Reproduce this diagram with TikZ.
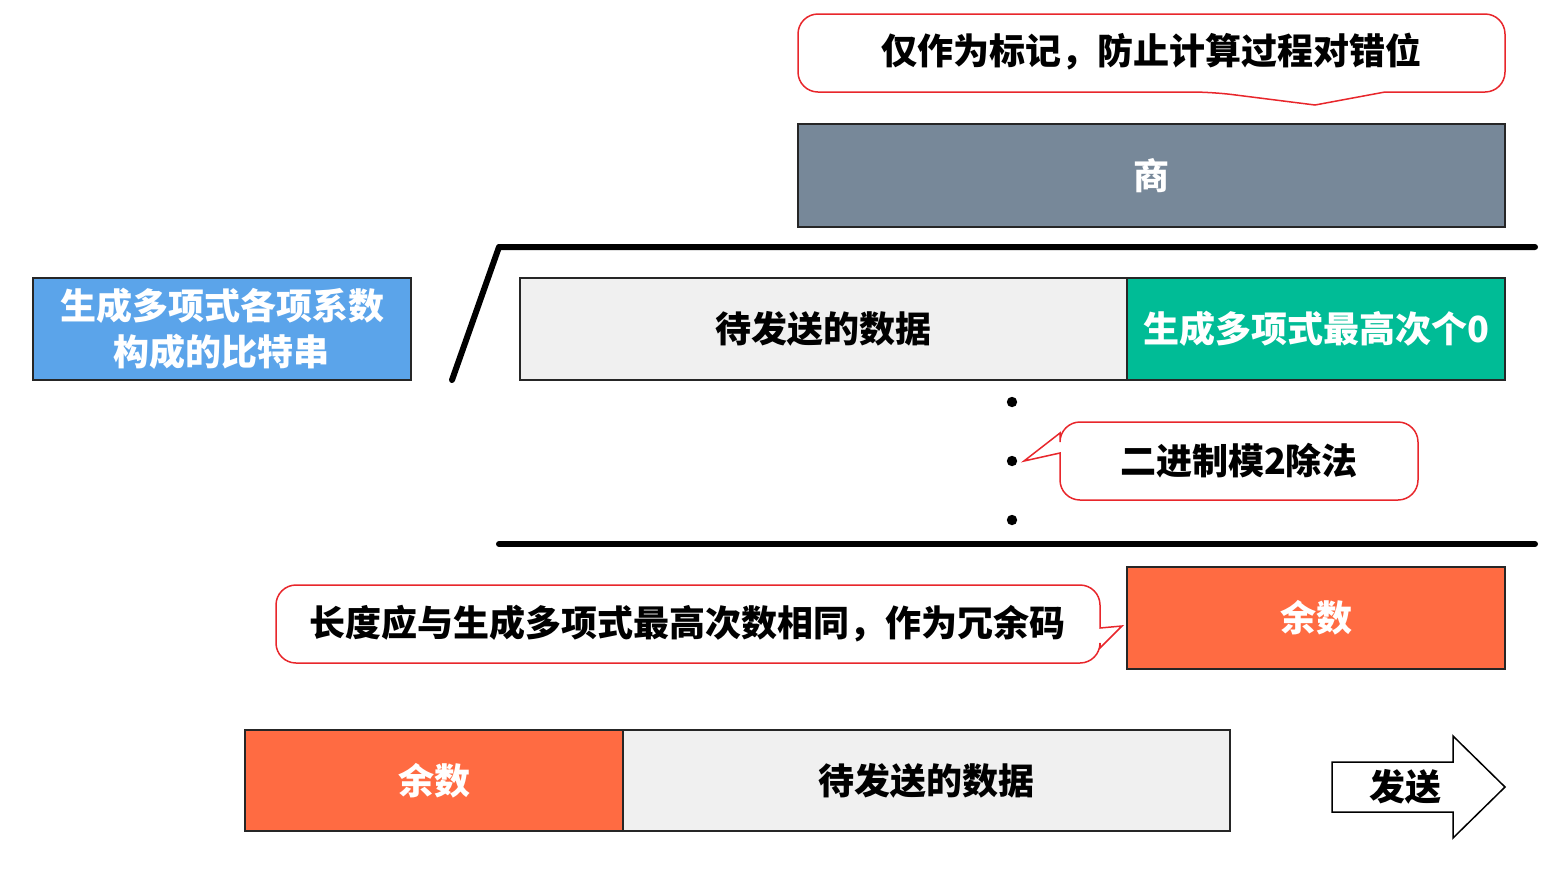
\documentclass[tikz,border=0pt]{standalone}
\usepackage{fontspec}
\setmainfont{Noto Sans CJK SC}[BoldFont={Noto Sans CJK SC Black}]
\usetikzlibrary{fit}
\definecolor{calloutred}{HTML}{E8262B}
\definecolor{slate}{HTML}{778899}
\definecolor{bluebox}{HTML}{5BA4EA}
\definecolor{greenbox}{HTML}{00BC96}
\definecolor{orangebox}{HTML}{FF6B42}
\definecolor{graybox}{HTML}{F0F0F0}
\tikzset{
  lbl/.style={font=\bfseries\fontsize{18}{22}\selectfont, inner sep=0pt},
  boxbase/.style={draw=black!85, line width=0.75pt, inner sep=0pt, font=\bfseries\fontsize{18}{22}\selectfont},
  slatebox/.style={boxbase, fill=slate, text=white},
  bluebx/.style={boxbase, fill=bluebox, text=white, align=center},
  greenbx/.style={boxbase, fill=greenbox, text=white},
  orangebx/.style={boxbase, fill=orangebox, text=white},
  graybx/.style={boxbase, fill=graybox, text=black},
  callout/.style={draw=calloutred, line width=0.75pt, fill=white},
  divline/.style={line width=3pt, line cap=round, line join=round},
}
\begin{document}
\begin{tikzpicture}[x=0.5pt, y=-0.5pt]
\useasboundingbox (0,0) rectangle (1564,869);
\fill[white] (0,0) rectangle (1564,869);

% top callout
\draw[callout] (1150,14) [rounded corners=10pt] -- (798,14) -- (798,92) -- (1212,92) [sharp corners] -- (1315,105) -- (1385,92) [rounded corners=10pt] -- (1505,92) -- (1505,14) -- cycle;
\node[lbl] (note1) at (1151,52) {仅作为标记，防止计算过程对错位};

% quotient
\node[slatebox, fit={(798,124) (1505,227)}] (shang) {};
\node[lbl, text=white] (shangt) at (shang.center) {商};

% division bracket
\draw[divline] (452,380) -- (499,247) -- (1535,247);

% generator polynomial
\node[bluebx, fit={(33,278) (411,380)}] (gen) {};
\node[lbl, text=white, align=center] (gent) at (gen.center) {生成多项式各项系数\\[1pt]构成的比特串};

% dividend
\node[graybx, fit={(520,278) (1127,380)}] (data1) {};
\node[lbl] (data1t) at (data1.center) {待发送的数据};
\node[greenbx, fit={(1127,278) (1505,380)}] (zeros) {};
\node[lbl, text=white] (zerost) at (zeros.center) {生成多项式最高次个0};

% dots
\fill (1012,402) circle (2.6pt);
\fill (1012,461) circle (2.6pt);
\fill (1012,520) circle (2.6pt);

% mod-2 callout
\draw[callout] (1240,422) [rounded corners=10pt] -- (1060,422) [sharp corners] -- (1060,433) -- (1024,461) -- (1060,453) [rounded corners=10pt] -- (1060,500) -- (1418,500) -- (1418,422) -- cycle;
\node[lbl] (note2) at (1239,461) {二进制模2除法};

% lower line
\draw[divline] (499,544) -- (1535,544);

% remainder
\node[orangebx, fit={(1127,567) (1505,669)}] (rem) {};
\node[lbl, text=white] (remt) at (rem.center) {余数};

% redundancy callout
\draw[callout] (690,585) [rounded corners=10pt] -- (276,585) -- (276,663) -- (1100,663) [sharp corners] -- (1100,648) -- (1122,626) -- (1100,628) [rounded corners=10pt] -- (1100,585) -- cycle;
\node[lbl] (note3) at (687,624) {长度应与生成多项式最高次数相同，作为冗余码};

% final frame
\node[orangebx, fit={(245,730) (623,831)}] (rem2) {};
\node[lbl, text=white] (rem2t) at (rem2.center) {余数};
\node[graybx, fit={(623,730) (1230,831)}] (data2) {};
\node[lbl] (data2t) at (data2.center) {待发送的数据};

% send arrow
\draw[line width=0.75pt, fill=white] (1332,762) -- (1453,762) -- (1453,736) -- (1505,787) -- (1453,838) -- (1453,812) -- (1332,812) -- cycle;
\node[lbl] (send) at (1405,787) {发送};
\end{tikzpicture}
\end{document}
